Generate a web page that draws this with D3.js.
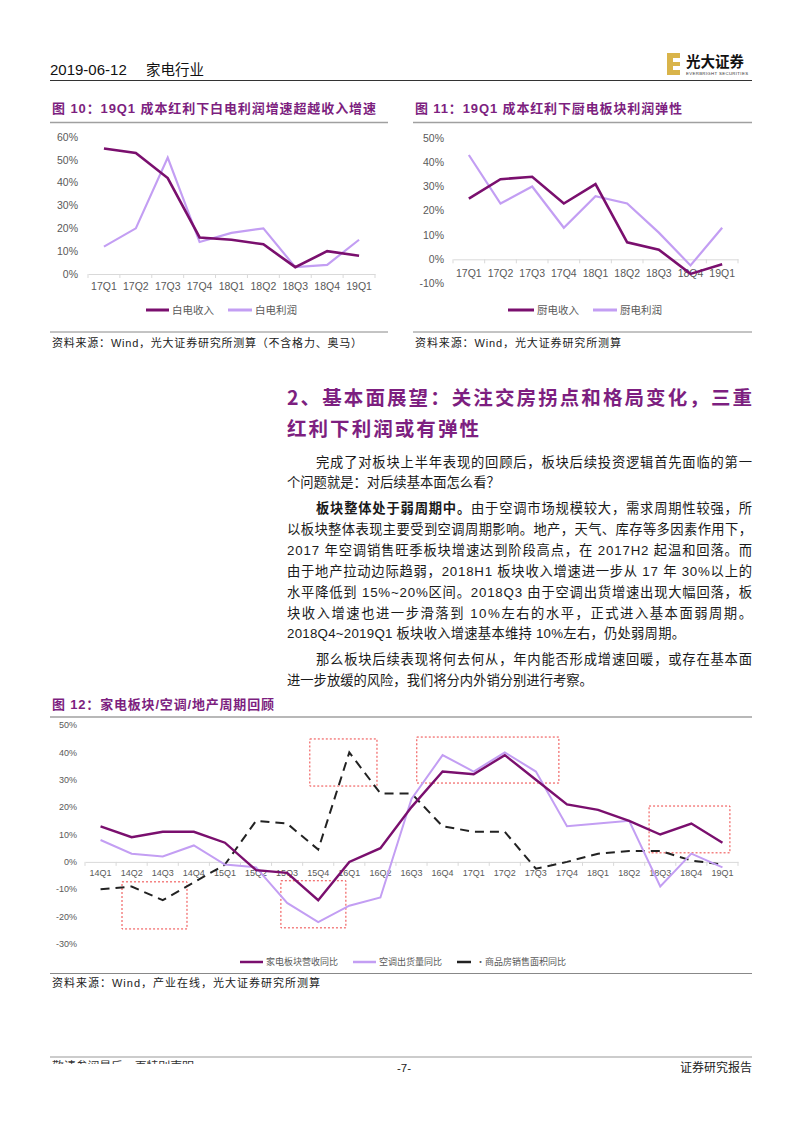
<!DOCTYPE html>
<html><head><meta charset="utf-8">
<script src="https://cdn.jsdelivr.net/npm/d3@7"></script>
<style>
html,body{margin:0;padding:0;background:#fff;}
svg{display:block;}
</style></head>
<body>
<svg id="page" width="802" height="1133"></svg>
<script>
// ---------- DATA ----------
const cats1 = ["17Q1","17Q2","17Q3","17Q4","18Q1","18Q2","18Q3","18Q4","19Q1"];
const baiRevenue = [55,53,42,16,15,13,3,10,8];
const baiProfit  = [12,20,51,14,18,20,3,4,15];
const chuRevenue = [25,33,34,23,31,7,4,-6,-2];
const chuProfit  = [43,23,30,13,26,23,11,-2.5,13];

const cats3 = ["14Q1","14Q2","14Q3","14Q4","15Q1","15Q2","15Q3","15Q4","16Q1","16Q2","16Q3","16Q4","17Q1","17Q2","17Q3","17Q4","18Q1","18Q2","18Q3","18Q4","19Q1"];
const industryRev = [13,9,11,11,7,-3,-4,-14,0,5,20,33,32,39,30,21,19,15,10,14,7];
const acShipment  = [8,3,2,6,-1,-2,-15,-22,-16,-13,23,39,33,40,33,13,14,15,-9,3,-2];
const housingArea = [-10,-9,-14,-7.5,-1,15,14,4.5,40,25,25,13,11,11,-2.5,0,3,4,4,0.5,-1];
// annotation boxes: [startIndex, endIndex, topValue, bottomValue]
const boxes = [[0.69,2.78,-7.3,-24.5],[6.73,8.89,44.9,27.7],[5.8,7.89,-6.9,-24.1],[10.17,14.74,45.6,28.8],[17.64,20.24,20.4,3.3]];

const ticks1 = [0,10,20,30,40,50,60];
const ticks2 = [-10,0,10,20,30,40,50];
const ticks3 = [-30,-20,-10,0,10,20,30,40,50];

const DARK = "#7a0f6e", LIGHT = "#c39ef3", TITLE = "#7d1f80";
const FONT = "'Liberation Sans','Noto Sans CJK SC',sans-serif";
const CJK = "'Noto Sans CJK SC','Liberation Sans',sans-serif";

const svg = d3.select("#page");

// ---------- HEADER ----------
svg.append("text").attr("x",50).attr("y",75).attr("font-family",FONT).attr("font-size",15).attr("fill","#111").text("2019-06-12");
svg.append("text").attr("x",146).attr("y",75).attr("font-family",CJK).attr("font-size",14.5).attr("fill","#111").text("家电行业");
svg.append("line").attr("x1",50).attr("x2",752).attr("y1",80.5).attr("y2",80.5).attr("stroke","#333").attr("stroke-width",1.2);
// logo
const logo = svg.append("g");
logo.append("rect").attr("x",667).attr("y",53).attr("width",13).attr("height",22).attr("fill","#d9b44a");
logo.append("rect").attr("x",673).attr("y",58).attr("width",7).attr("height",4).attr("fill","#fff");
logo.append("rect").attr("x",673).attr("y",66).attr("width",7).attr("height",4).attr("fill","#fff");
logo.append("text").attr("x",686).attr("y",67).attr("font-family","'Noto Sans CJK SC'").attr("font-weight","bold").attr("font-size",14.5).attr("fill","#111").text("光大证券");
logo.append("text").attr("x",686).attr("y",74.5).attr("font-family",FONT).attr("font-size",4.3).attr("fill","#333").attr("textLength",62).text("EVERBRIGHT SECURITIES");

// ---------- helpers ----------
function fitText(sel, width){
  sel.each(function(){
    const n = this.getNumberOfChars();
    const w = this.getComputedTextLength();
    if(n>1){ d3.select(this).style("letter-spacing", ((width - w)/(n-1))+"px"); }
  });
}
function chartTitle(x, y, x2, lineY, lineX1, lineX2, txt){
  const t = svg.append("text").attr("x",x).attr("y",y).attr("font-family",FONT).attr("font-weight","bold")
     .attr("font-size",13).attr("fill",TITLE).text(txt);
  fitText(t, x2-x);
  svg.append("line").attr("x1",lineX1).attr("x2",lineX2).attr("y1",lineY).attr("y2",lineY).attr("stroke","#a0a0a0").attr("stroke-width",1.5);
}

function drawChart(cfg){
  const g = svg.append("g");
  const x = d3.scaleBand().domain(cfg.cats).range(cfg.xr).padding(0);
  const y = d3.scaleLinear().domain(cfg.yd).range(cfg.yr);
  const cx = d => x(d) + x.bandwidth()/2;
  // y labels
  g.selectAll(".yl").data(cfg.ticks).join("text")
    .attr("x",cfg.ylx).attr("y",d=>y(d)).attr("dy","0.35em").attr("text-anchor","end")
    .attr("font-family",FONT).attr("font-size",cfg.fs).attr("fill","#595959").text(d=>d+"%");
  // axis
  const ax = g.append("g").attr("transform",`translate(0,${y(0)})`)
    .call(d3.axisBottom(x).tickSize(0).tickFormat(""));
  ax.select(".domain").attr("stroke","#d9d9d9").attr("stroke-width",1);
  const bounds = cfg.cats.map(c=>x(c)).concat([cfg.xr[1]]);
  g.selectAll(".tk").data(bounds).join("line")
    .attr("x1",d=>d).attr("x2",d=>d).attr("y1",y(0)).attr("y2",y(0)+4).attr("stroke","#d9d9d9");
  // x labels
  g.selectAll(".xl").data(cfg.cats).join("text")
    .attr("x",d=>cx(d)).attr("y",y(0)+cfg.xlOff).attr("dy","0.35em").attr("text-anchor","middle")
    .attr("font-family",FONT).attr("font-size",cfg.fs).attr("fill","#595959").text(d=>d);
  // boxes
  if(cfg.boxes){
    const step = x.step(), x0 = cfg.xr[0];
    g.selectAll(".bx").data(cfg.boxes).join("rect")
      .attr("x",d=>x0+step*(d[0]+0.5)).attr("width",d=>step*(d[1]-d[0]))
      .attr("y",d=>y(d[2])).attr("height",d=>y(d[3])-y(d[2]))
      .attr("fill","none").attr("stroke","#ee4444").attr("stroke-width",1).attr("stroke-dasharray","2,2");
  }
  // series
  const line = d3.line().x((d,i)=>cx(cfg.cats[i])).y(d=>y(d));
  cfg.series.forEach(s=>{
    g.append("path").datum(s.values).attr("d",line).attr("fill","none")
      .attr("stroke",s.color).attr("stroke-width",s.width).attr("stroke-dasharray",s.dash||null)
      .attr("stroke-linejoin","miter");
  });
  return {x,y};
}

// ---------- CHART 10 ----------
chartTitle(52,113,376,122.5,50,388,"图 10：19Q1 成本红利下白电利润增速超越收入增速");
drawChart({cats:cats1, xr:[88,375], yd:[0,60], yr:[274,137], ticks:ticks1, ylx:78, fs:10.5, xlOff:12,
  series:[{values:baiProfit,color:LIGHT,width:2.2},{values:baiRevenue,color:DARK,width:2.6}]});
// legend
function legendItem(x1,x2,y,color,dash,label,fs,w){
  svg.append("line").attr("x1",x1).attr("x2",x2).attr("y1",y).attr("y2",y).attr("stroke",color).attr("stroke-width",w).attr("stroke-dasharray",dash||null);
  svg.append("text").attr("x",x2+3).attr("y",y).attr("dy","0.35em").attr("font-family",CJK).attr("font-size",fs).attr("fill","#595959").text(label);
}
legendItem(146,169,310,DARK,null,"白电收入",10.5,3);
legendItem(228,252,310,LIGHT,null,"白电利润",10.5,3);
svg.append("line").attr("x1",50).attr("x2",388).attr("y1",332).attr("y2",332).attr("stroke","#888").attr("stroke-width",1);
fitText(svg.append("text").attr("x",52).attr("y",347).attr("font-family",FONT).attr("font-size",11).attr("fill","#222")
  .text("资料来源：Wind，光大证券研究所测算（不含格力、奥马）"),310);

// ---------- CHART 11 ----------
chartTitle(415,113,682,122.5,413,752,"图 11：19Q1 成本红利下厨电板块利润弹性");
drawChart({cats:cats1, xr:[453,738], yd:[-10,50], yr:[283.6,138], ticks:ticks2, ylx:444, fs:10.5, xlOff:13.5,
  series:[{values:chuProfit,color:LIGHT,width:2.2},{values:chuRevenue,color:DARK,width:2.6}]});
legendItem(508,534,310,DARK,null,"厨电收入",10.5,3);
legendItem(593,617,310,LIGHT,null,"厨电利润",10.5,3);
svg.append("line").attr("x1",413).attr("x2",752).attr("y1",332).attr("y2",332).attr("stroke","#888").attr("stroke-width",1);
fitText(svg.append("text").attr("x",415).attr("y",347).attr("font-family",FONT).attr("font-size",11).attr("fill","#222")
  .text("资料来源：Wind，光大证券研究所测算"),206);

// ---------- SECTION HEADING ----------
fitText(svg.append("text").attr("x",287).attr("y",405).attr("font-family",CJK).attr("font-weight","bold").attr("font-size",19.5).attr("fill",TITLE)
  .text("2、基本面展望：关注交房拐点和格局变化，三重"),465);
fitText(svg.append("text").attr("x",287).attr("y",436).attr("font-family",CJK).attr("font-weight","bold").attr("font-size",19.5).attr("fill",TITLE)
  .text("红利下利润或有弹性"),192);

// ---------- BODY TEXT ----------
const bodyLines = [
  {y:467, x:316, segs:[["","完成了对板块上半年表现的回顾后，板块后续投资逻辑首先面临的第一"]], just:true},
  {y:487, x:287, segs:[["","个问题就是：对后续基本面怎么看？"]], just:false},
  {y:513, x:316, segs:[["b","板块整体处于弱周期中。"],["","由于空调市场规模较大，需求周期性较强，所"]], just:true},
  {y:534, x:287, segs:[["","以板块整体表现主要受到空调周期影响。地产，天气、库存等多因素作用下，"]], just:true},
  {y:555, x:287, segs:[["","2017 年空调销售旺季板块增速达到阶段高点，在 2017H2 起温和回落。而"]], just:true},
  {y:576, x:287, segs:[["","由于地产拉动边际趋弱，2018H1 板块收入增速进一步从 17 年 30%以上的"]], just:true},
  {y:597, x:287, segs:[["","水平降低到 15%~20%区间。2018Q3 由于空调出货增速出现大幅回落，板"]], just:true},
  {y:617.5, x:287, segs:[["","块收入增速也进一步滑落到 10%左右的水平，正式进入基本面弱周期。"]], just:true},
  {y:638, x:287, segs:[["","2018Q4~2019Q1 板块收入增速基本维持 10%左右，仍处弱周期。"]], just:false, w:398},
  {y:664, x:316, segs:[["","那么板块后续表现将何去何从，年内能否形成增速回暖，或存在基本面"]], just:true},
  {y:684.5, x:287, segs:[["","进一步放缓的风险，我们将分内外销分别进行考察。"]], just:false}
];
bodyLines.forEach(l=>{
  const t = svg.append("text").attr("x",l.x).attr("y",l.y).attr("font-family",FONT).attr("font-size",13.3).attr("fill","#1a1a1a");
  l.segs.forEach(s=>{
    t.append("tspan").attr("font-weight",s[0]==="b"?"bold":"normal").text(s[1]);
  });
  if(l.just) fitText(t, 752-l.x);
  else if(l.w) fitText(t, l.w);
});

// ---------- CHART 12 ----------
chartTitle(52,709,274,717,50,752,"图 12：家电板块/空调/地产周期回顾");
drawChart({cats:cats3, xr:[85,738], yd:[-30,50], yr:[944,725], ticks:ticks3, ylx:77, fs:9, xlOff:11, boxes:boxes,
  series:[{values:housingArea,color:"#222",width:2,dash:"9,6"},
          {values:acShipment,color:LIGHT,width:2},
          {values:industryRev,color:DARK,width:2.4}]});
legendItem(240,263,962,DARK,null,"家电板块营收同比",9,2.5);
legendItem(353,376,962,LIGHT,null,"空调出货量同比",9,2.5);
legendItem(457,471,962,"#222",null,"",9,2.5);
svg.append("text").attr("x",476).attr("y",962).attr("dy","0.35em").attr("font-family",CJK).attr("font-size",9).attr("fill","#595959").text("·商品房销售面积同比");
svg.append("line").attr("x1",50).attr("x2",752).attr("y1",973.5).attr("y2",973.5).attr("stroke","#888").attr("stroke-width",1);
fitText(svg.append("text").attr("x",52).attr("y",987).attr("font-family",FONT).attr("font-size",11).attr("fill","#222")
  .text("资料来源：Wind，产业在线，光大证券研究所测算"),268);

// ---------- FOOTER ----------
svg.append("line").attr("x1",50).attr("x2",752).attr("y1",1057).attr("y2",1057).attr("stroke","#999").attr("stroke-width",1.2);
svg.append("clipPath").attr("id","fclip").append("rect").attr("x",40).attr("y",1058).attr("width",200).attr("height",6);
fitText(svg.append("text").attr("x",52).attr("y",1071).attr("font-family",CJK).attr("font-size",12).attr("fill","#333").attr("clip-path","url(#fclip)")
  .text("敬请参阅最后一页特别声明"),142);
svg.append("text").attr("x",404).attr("y",1072).attr("text-anchor","middle").attr("font-family",FONT).attr("font-size",11.5).attr("fill","#222").text("-7-");
svg.append("text").attr("x",752).attr("y",1072).attr("text-anchor","end").attr("font-family",CJK).attr("font-size",12).attr("fill","#222").text("证券研究报告");
</script>
</body></html>
